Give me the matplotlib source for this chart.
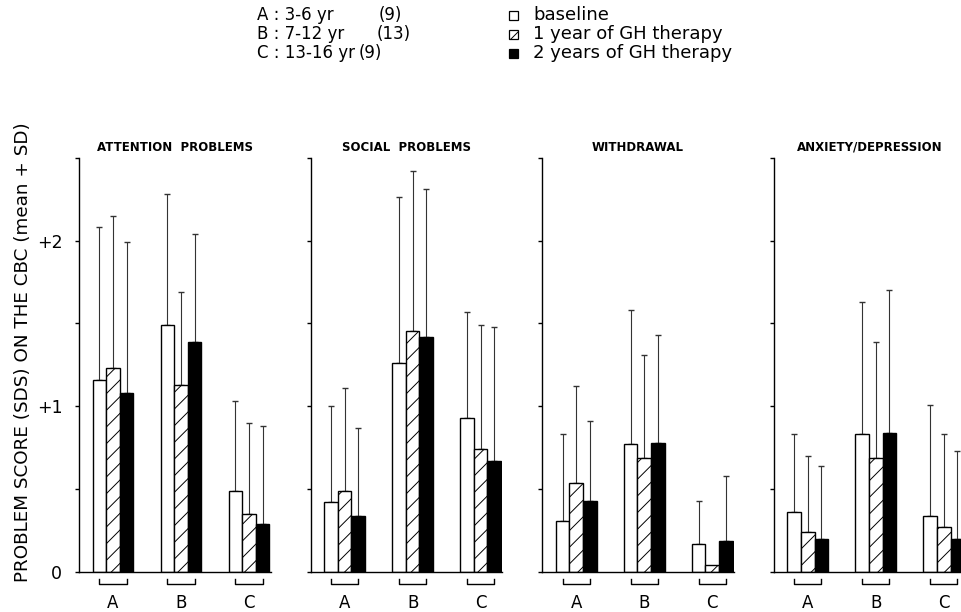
import numpy as np
import matplotlib
matplotlib.use("Agg")
import matplotlib.pyplot as plt
from matplotlib.patches import Rectangle

plt.rcParams['font.family'] = ['DejaVu Sans']
plt.rcParams['hatch.linewidth'] = 0.7

groups = ['A', 'B', 'C']
panels = ['ATTENTION  PROBLEMS', 'SOCIAL  PROBLEMS', 'WITHDRAWAL', 'ANXIETY/DEPRESSION']

# mean scores per panel, order A, B, C
baseline_mean = [[1.16, 1.49, 0.49], [0.42, 1.26, 0.93], [0.31, 0.77, 0.17], [0.36, 0.83, 0.34]]
year1_mean = [[1.23, 1.13, 0.35], [0.49, 1.455, 0.74], [0.54, 0.69, 0.04], [0.24, 0.69, 0.27]]
year2_mean = [[1.08, 1.39, 0.29], [0.34, 1.42, 0.67], [0.43, 0.78, 0.19], [0.20, 0.84, 0.20]]

# SD (drawn upward only)
baseline_sd = [[0.92, 0.79, 0.54], [0.58, 1.00, 0.64], [0.52, 0.81, 0.26], [0.47, 0.80, 0.67]]
year1_sd = [[0.92, 0.56, 0.55], [0.62, 0.965, 0.75], [0.58, 0.62, np.nan], [0.46, 0.70, 0.56]]
year2_sd = [[0.91, 0.65, 0.59], [0.53, 0.89, 0.81], [0.48, 0.65, 0.39], [0.44, 0.86, 0.53]]

yticks = [0, 0.5, 1, 1.5, 2, 2.5]
ytick_labels = ['0', '', '+1', '', '+2', '']

age_groups = ['A : 3-6 yr', 'B : 7-12 yr', 'C : 13-16 yr']
group_n = ['(9)', '(13)', '(9)']
series_names = ['baseline', '1 year of GH therapy', '2 years of GH therapy']

W, H = 962, 612
fig = plt.figure(figsize=(W / 100, H / 100), dpi=100)

x = np.arange(len(groups))
bw = 0.2
styles = [dict(color='white', hatch=None), dict(color='white', hatch='//'), dict(color='black', hatch=None)]

for i, title in enumerate(panels):
    left = 79 + i * 231.6
    ax = fig.add_axes([left / W, 40 / H, 191.8 / W, 414.3 / H])
    means = [baseline_mean[i], year1_mean[i], year2_mean[i]]
    sds = [baseline_sd[i], year1_sd[i], year2_sd[i]]
    for k in range(3):
        pos = x + (k - 1) * bw
        ax.bar(pos, means[k], width=bw, color=styles[k]['color'], hatch=styles[k]['hatch'],
               edgecolor='black', linewidth=1.0, zorder=2)
        sd = np.array(sds[k], dtype=float)
        ok = np.isfinite(sd)
        m = np.array(means[k])
        ax.errorbar(pos[ok], m[ok], yerr=[np.zeros(ok.sum()), sd[ok]], fmt='none',
                    ecolor='#333333', elinewidth=0.8, capsize=2.2, capthick=1.0, zorder=1)
    # brackets under each group
    for c in x:
        ax.plot([c - 0.2, c - 0.2, c + 0.2, c + 0.2], [-0.04, -0.072, -0.072, -0.04],
                color='black', lw=1.0, clip_on=False)
    ax.set_xlim(-0.5, 2.32)
    ax.set_ylim(0, 2.5)
    for s in ['top', 'right']:
        ax.spines[s].set_visible(False)
    ax.spines['left'].set_linewidth(1.0)
    ax.spines['bottom'].set_linewidth(1.0)
    ax.set_xticks(x)
    ax.set_xticklabels(groups, fontsize=12)
    ax.tick_params(axis='x', length=0, pad=16)
    ax.set_yticks(yticks)
    if i == 0:
        ax.set_yticklabels(ytick_labels, fontsize=12.5)
    else:
        ax.set_yticklabels([])
    ax.tick_params(axis='y', direction='out', length=3, width=1, pad=9)
    ax.set_title(title, fontsize=8.5, fontweight='bold', pad=5)

fig.text(23 / W, 1 - 352 / H, 'PROBLEM SCORE (SDS) ON THE CBC (mean + SD)', rotation=90,
         ha='center', va='center', fontsize=13.2)

# legend block
row_y = [15, 34, 53]
n_x = [379, 377, 359]
for r in range(3):
    yy = 1 - row_y[r] / H
    fig.text(257 / W, yy, age_groups[r], ha='left', va='center', fontsize=12)
    fig.text(n_x[r] / W, yy, group_n[r], ha='left', va='center', fontsize=12)
    sq = Rectangle((509 / W, yy - 4.5 / H), 9 / W, 9 / H, transform=fig.transFigure,
                   facecolor=styles[r]['color'], hatch=styles[r]['hatch'],
                   edgecolor='black', linewidth=0.9)
    fig.add_artist(sq)
    fig.text(533 / W, yy, series_names[r], ha='left', va='center', fontsize=13)

fig.savefig('out.png', dpi=100)
